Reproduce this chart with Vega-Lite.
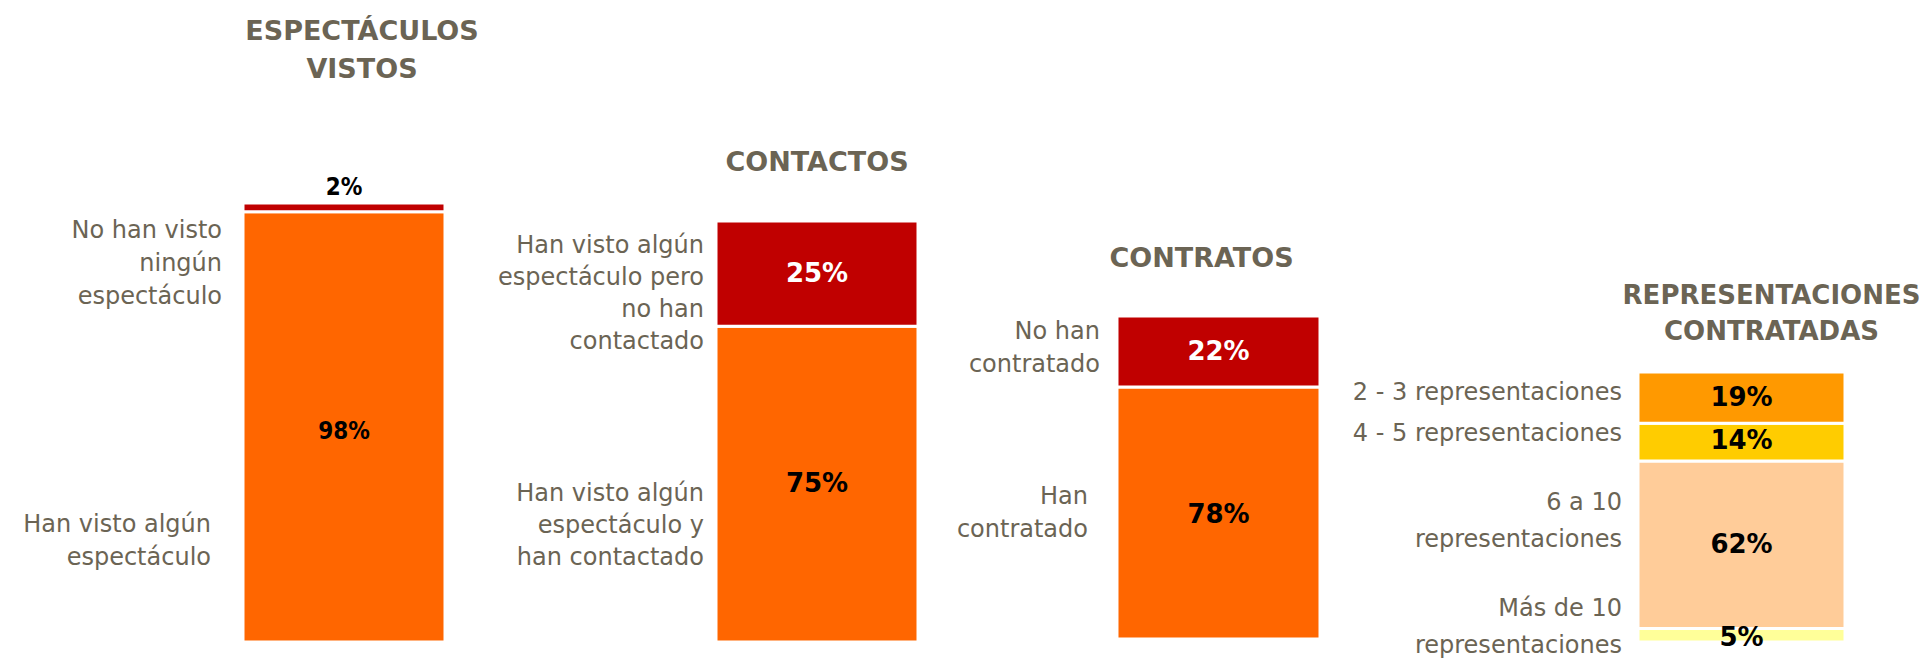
{
  "$schema": "https://vega.github.io/schema/vega-lite/v6.json",
  "padding": 0,
  "spacing": 0,
  "bounds": "flush",
  "background": "white",
  "config": {"view": {"stroke": null}, "text": {"font": "DejaVu Sans"}, "axis": {"disable": true}},
  "resolve": {"scale": {"color": "independent"}},
  "datasets": {
    "d": [
      {"panel": "vistos", "cat": "Han visto algún\nespectáculo", "pct": 0.98, "ord": 1},
      {"panel": "vistos", "cat": "No han visto\nningún\nespectáculo", "pct": 0.02, "ord": 2},
      {"panel": "contactos", "cat": "Han visto algún\nespectáculo y\nhan contactado", "pct": 0.75, "ord": 1},
      {"panel": "contactos", "cat": "Han visto algún\nespectáculo pero\nno han\ncontactado", "pct": 0.25, "ord": 2},
      {"panel": "contratos", "cat": "Han\ncontratado", "pct": 0.78, "ord": 1},
      {"panel": "contratos", "cat": "No han\ncontratado", "pct": 0.22, "ord": 2},
      {"panel": "repr", "cat": "Más de 10\nrepresentaciones", "pct": 0.05, "ord": 1},
      {"panel": "repr", "cat": "6 a 10\nrepresentaciones", "pct": 0.62, "ord": 2},
      {"panel": "repr", "cat": "4 - 5 representaciones", "pct": 0.14, "ord": 3},
      {"panel": "repr", "cat": "2 - 3 representaciones", "pct": 0.19, "ord": 4}
    ]
  },
  "hconcat": [
    {
      "width": 445, "height": 659,
      "data": {"name": "d"},
      "transform": [{"filter": "datum.panel == 'vistos'"}],
      "encoding": {"x": {"field": "panel", "type": "nominal", "axis": null, "scale": {"paddingInner": 0, "paddingOuter": 0.6015, "align": 1}}},
      "layer": [
        {"mark": {"type": "bar", "stroke": "white", "strokeWidth": 3},
         "encoding": {
           "y": {"field": "pct", "type": "quantitative", "stack": "zero", "axis": null, "scale": {"domain": [-0.03872, 1.4624], "nice": false, "zero": false}},
           "order": {"field": "ord"},
           "color": {"field": "ord", "type": "nominal", "scale": {"domain": [1, 2], "range": ["#FF6600", "#C00000"]}, "legend": null}}},
        {"transform": [{"filter": "datum.ord == 1"}],
         "mark": {"type": "text", "font": "'DejaVu Sans Condensed', 'DejaVu Sans'", "fontWeight": "bold", "fontSize": 24, "color": "black", "baseline": "middle"},
         "encoding": {"y": {"datum": 0.478, "axis": null}, "text": {"field": "pct", "type": "quantitative", "format": ".0%"}}},
        {"transform": [{"filter": "datum.ord == 2"}],
         "mark": {"type": "text", "font": "'DejaVu Sans Condensed', 'DejaVu Sans'", "fontWeight": "bold", "fontSize": 24, "color": "black", "baseline": "middle"},
         "encoding": {"y": {"datum": 1.034, "axis": null}, "text": {"field": "pct", "type": "quantitative", "format": ".0%"}}},
        {"transform": [{"filter": "datum.ord == 2"}],
         "mark": {"type": "text", "fontSize": 24, "color": "#6b6454", "align": "right", "baseline": "middle", "lineBreak": "\n", "lineHeight": 33, "dx": -21},
         "encoding": {"x": {"field": "panel", "type": "nominal", "bandPosition": 0}, "y": {"datum": 0.9362, "axis": null}, "text": {"field": "cat"}}},
        {"transform": [{"filter": "datum.ord == 1"}],
         "mark": {"type": "text", "fontSize": 24, "color": "#6b6454", "align": "right", "baseline": "middle", "lineBreak": "\n", "lineHeight": 33, "dx": -32},
         "encoding": {"x": {"field": "panel", "type": "nominal", "bandPosition": 0}, "y": {"datum": 0.2665, "axis": null}, "text": {"field": "cat"}}},
        {"transform": [{"filter": "datum.ord == 1"}],
         "mark": {"type": "text", "fontWeight": "bold", "fontSize": 27, "color": "#6b6454", "baseline": "middle", "lineHeight": 38, "dx": 18},
         "encoding": {"y": {"datum": 1.3895, "axis": null}, "text": {"value": ["ESPECTÁCULOS", "VISTOS"]}}}
      ]
    },
    {
      "width": 473, "height": 659,
      "data": {"name": "d"},
      "transform": [{"filter": "datum.panel == 'contactos'"}],
      "encoding": {"x": {"field": "panel", "type": "nominal", "axis": null, "scale": {"paddingInner": 0, "paddingOuter": 0.6708, "align": 1}}},
      "layer": [
        {"mark": {"type": "bar", "stroke": "white", "strokeWidth": 3},
         "encoding": {
           "y": {"field": "pct", "type": "quantitative", "stack": "zero", "axis": null, "scale": {"domain": [-0.04038, 1.5249], "nice": false, "zero": false}},
           "order": {"field": "ord"},
           "color": {"field": "ord", "type": "nominal", "scale": {"domain": [1, 2], "range": ["#FF6600", "#C00000"]}, "legend": null}}},
        {"transform": [{"filter": "datum.ord == 1"}],
         "mark": {"type": "text", "fontWeight": "bold", "fontSize": 26, "color": "black", "baseline": "middle"},
         "encoding": {"y": {"datum": 0.375, "axis": null}, "text": {"field": "pct", "type": "quantitative", "format": ".0%"}}},
        {"transform": [{"filter": "datum.ord == 2"}],
         "mark": {"type": "text", "fontWeight": "bold", "fontSize": 26, "color": "white", "baseline": "middle"},
         "encoding": {"y": {"datum": 0.875, "axis": null}, "text": {"field": "pct", "type": "quantitative", "format": ".0%"}}},
        {"transform": [{"filter": "datum.ord == 2"}],
         "mark": {"type": "text", "fontSize": 24, "color": "#6b6454", "align": "right", "baseline": "middle", "lineBreak": "\n", "lineHeight": 32, "dx": -12},
         "encoding": {"x": {"field": "panel", "type": "nominal", "bandPosition": 0}, "y": {"datum": 0.9416, "axis": null}, "text": {"field": "cat"}}},
        {"transform": [{"filter": "datum.ord == 1"}],
         "mark": {"type": "text", "fontSize": 24, "color": "#6b6454", "align": "right", "baseline": "middle", "lineBreak": "\n", "lineHeight": 32, "dx": -12},
         "encoding": {"x": {"field": "panel", "type": "nominal", "bandPosition": 0}, "y": {"datum": 0.3523, "axis": null}, "text": {"field": "cat"}}},
        {"transform": [{"filter": "datum.ord == 1"}],
         "mark": {"type": "text", "fontWeight": "bold", "fontSize": 27, "color": "#6b6454", "baseline": "middle"},
         "encoding": {"y": {"datum": 1.137, "axis": null}, "text": {"value": "CONTACTOS"}}}
      ]
    },
    {
      "width": 402, "height": 659,
      "data": {"name": "d"},
      "transform": [{"filter": "datum.panel == 'contratos'"}],
      "encoding": {"x": {"field": "panel", "type": "nominal", "axis": null, "scale": {"paddingInner": 0, "paddingOuter": 0.4901, "align": 1}}},
      "layer": [
        {"mark": {"type": "bar", "stroke": "white", "strokeWidth": 3},
         "encoding": {
           "y": {"field": "pct", "type": "quantitative", "stack": "zero", "axis": null, "scale": {"domain": [-0.06192, 1.9783], "nice": false, "zero": false}},
           "order": {"field": "ord"},
           "color": {"field": "ord", "type": "nominal", "scale": {"domain": [1, 2], "range": ["#FF6600", "#C00000"]}, "legend": null}}},
        {"transform": [{"filter": "datum.ord == 1"}],
         "mark": {"type": "text", "fontWeight": "bold", "fontSize": 26, "color": "black", "baseline": "middle"},
         "encoding": {"y": {"datum": 0.385, "axis": null}, "text": {"field": "pct", "type": "quantitative", "format": ".0%"}}},
        {"transform": [{"filter": "datum.ord == 2"}],
         "mark": {"type": "text", "fontWeight": "bold", "fontSize": 26, "color": "white", "baseline": "middle"},
         "encoding": {"y": {"datum": 0.89, "axis": null}, "text": {"field": "pct", "type": "quantitative", "format": ".0%"}}},
        {"transform": [{"filter": "datum.ord == 2"}],
         "mark": {"type": "text", "fontSize": 24, "color": "#6b6454", "align": "right", "baseline": "middle", "lineBreak": "\n", "lineHeight": 33, "dx": -17},
         "encoding": {"x": {"field": "panel", "type": "nominal", "bandPosition": 0}, "y": {"datum": 0.9517, "axis": null}, "text": {"field": "cat"}}},
        {"transform": [{"filter": "datum.ord == 1"}],
         "mark": {"type": "text", "fontSize": 24, "color": "#6b6454", "align": "right", "baseline": "middle", "lineBreak": "\n", "lineHeight": 33, "dx": -29},
         "encoding": {"x": {"field": "panel", "type": "nominal", "bandPosition": 0}, "y": {"datum": 0.4387, "axis": null}, "text": {"field": "cat"}}},
        {"transform": [{"filter": "datum.ord == 1"}],
         "mark": {"type": "text", "fontWeight": "bold", "fontSize": 27, "color": "#6b6454", "baseline": "middle", "dx": -17},
         "encoding": {"y": {"datum": 1.176, "axis": null}, "text": {"value": "CONTRATOS"}}}
      ]
    },
    {
      "width": 606, "height": 659,
      "data": {"name": "d"},
      "transform": [{"filter": "datum.panel == 'repr'"}],
      "encoding": {"x": {"field": "panel", "type": "nominal", "axis": null, "scale": {"paddingInner": 0, "paddingOuter": 0.9638, "align": 0.797}}},
      "layer": [
        {"mark": {"type": "bar", "stroke": "white", "strokeWidth": 3},
         "encoding": {
           "y": {"field": "pct", "type": "quantitative", "stack": "zero", "axis": null, "scale": {"domain": [-0.06296, 2.3778], "nice": false, "zero": false}},
           "order": {"field": "ord"},
           "color": {"field": "ord", "type": "nominal", "scale": {"domain": [1, 2, 3, 4], "range": ["#FFFF99", "#FFCC99", "#FFCC00", "#FF9900"]}, "legend": null}}},
        {"transform": [{"filter": "datum.ord == 4"}],
         "mark": {"type": "text", "fontWeight": "bold", "fontSize": 26, "color": "black", "baseline": "middle"},
         "encoding": {"y": {"datum": 0.904, "axis": null}, "text": {"field": "pct", "type": "quantitative", "format": ".0%"}}},
        {"transform": [{"filter": "datum.ord == 3"}],
         "mark": {"type": "text", "fontWeight": "bold", "fontSize": 26, "color": "black", "baseline": "middle"},
         "encoding": {"y": {"datum": 0.745, "axis": null}, "text": {"field": "pct", "type": "quantitative", "format": ".0%"}}},
        {"transform": [{"filter": "datum.ord == 2"}],
         "mark": {"type": "text", "fontWeight": "bold", "fontSize": 26, "color": "black", "baseline": "middle"},
         "encoding": {"y": {"datum": 0.359, "axis": null}, "text": {"field": "pct", "type": "quantitative", "format": ".0%"}}},
        {"transform": [{"filter": "datum.ord == 1"}],
         "mark": {"type": "text", "fontWeight": "bold", "fontSize": 26, "color": "black", "baseline": "middle"},
         "encoding": {"y": {"datum": 0.015, "axis": null}, "text": {"field": "pct", "type": "quantitative", "format": ".0%"}}},
        {"transform": [{"filter": "datum.ord == 4"}],
         "mark": {"type": "text", "fontSize": 24, "color": "#6b6454", "align": "right", "baseline": "middle", "lineBreak": "\n", "lineHeight": 37, "dx": -16},
         "encoding": {"x": {"field": "panel", "type": "nominal", "bandPosition": 0}, "y": {"datum": 0.922, "axis": null}, "text": {"field": "cat"}}},
        {"transform": [{"filter": "datum.ord == 3"}],
         "mark": {"type": "text", "fontSize": 24, "color": "#6b6454", "align": "right", "baseline": "middle", "lineBreak": "\n", "lineHeight": 37, "dx": -16},
         "encoding": {"x": {"field": "panel", "type": "nominal", "bandPosition": 0}, "y": {"datum": 0.772, "axis": null}, "text": {"field": "cat"}}},
        {"transform": [{"filter": "datum.ord == 2"}],
         "mark": {"type": "text", "fontSize": 24, "color": "#6b6454", "align": "right", "baseline": "middle", "lineBreak": "\n", "lineHeight": 37, "dx": -16},
         "encoding": {"x": {"field": "panel", "type": "nominal", "bandPosition": 0}, "y": {"datum": 0.513, "axis": null}, "text": {"field": "cat"}}},
        {"transform": [{"filter": "datum.ord == 1"}],
         "mark": {"type": "text", "fontSize": 24, "color": "#6b6454", "align": "right", "baseline": "middle", "lineBreak": "\n", "lineHeight": 37, "dx": -16},
         "encoding": {"x": {"field": "panel", "type": "nominal", "bandPosition": 0}, "y": {"datum": 0.1222, "axis": null}, "text": {"field": "cat"}}},
        {"transform": [{"filter": "datum.ord == 1"}],
         "mark": {"type": "text", "fontWeight": "bold", "fontSize": 26, "color": "#6b6454", "baseline": "middle", "lineHeight": 36, "dx": 30},
         "encoding": {"y": {"datum": 1.2815, "axis": null}, "text": {"value": ["REPRESENTACIONES", "CONTRATADAS"]}}}
      ]
    }
  ]
}
